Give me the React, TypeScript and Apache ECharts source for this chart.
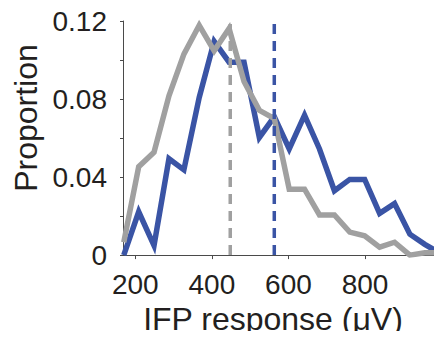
import React, { useEffect, useRef } from "react";
import * as echarts from "echarts";

const binCenters = [170, 209, 249, 288, 327, 367, 406, 445, 484, 524, 563, 602, 642, 681, 720, 760, 799, 838, 877, 917, 956, 995];
const blueValues = [0, 0.0222, 0.0049, 0.0494, 0.0437, 0.0808, 0.1096, 0.0989, 0.0989, 0.0603, 0.0709, 0.0544, 0.0717, 0.0544, 0.033, 0.0388, 0.0388, 0.0214, 0.0264, 0.0107, 0.0055, 0.001];
const grayValues = [0.0066, 0.0453, 0.0527, 0.0816, 0.103, 0.1178, 0.1047, 0.1162, 0.089, 0.0742, 0.07, 0.0338, 0.0338, 0.0206, 0.0206, 0.0118, 0.0099, 0.0041, 0.0066, 0.0, 0.0012, 0.0012];
const grayMean = 448;
const blueMean = 563;
const meanLineSpan = [0, 0.1221];
const xTickValues = [200, 400, 600, 800];
const yLabelValues = [0, 0.04, 0.08, 0.12];

const BLUE = "#3a54a5";
const GRAY = "#a0a0a0";
const TEXT = "#231f20";
const AXIS = "#4a4a4a";
const FONT = "Liberation Sans, Arial, Helvetica, sans-serif";

export default function App() {
  const ref = useRef<HTMLDivElement>(null);
  useEffect(() => {
    if (!ref.current) return;
    const chart = echarts.init(ref.current, null, { renderer: "svg" });
    const pair = (xs: number[], ys: number[]) => xs.map((x, i) => [x, ys[i]]);
    const vline = (x: number) => meanLineSpan.map((y) => [x, y]);
    chart.setOption({
      animation: false,
      grid: { left: 123, right: 0, top: 21, bottom: 77, containLabel: false },
      graphic: [
        {
          type: "rect",
          z: 100,
          shape: { x: 0, y: 331, width: 434, height: 9 },
          style: { fill: "#fff" },
        },
      ],
      xAxis: {
        type: "value",
        min: 168,
        max: 980,
        name: "IFP response (\u03bcV)",
        nameLocation: "middle",
        nameGap: 41,
        nameTextStyle: { fontSize: 32, color: TEXT, fontFamily: FONT, padding: [0, 11, 0, 0] },
        axisLine: { show: true, onZero: false, lineStyle: { color: AXIS, width: 1 } },
        axisTick: { show: true, length: 4, customValues: xTickValues, lineStyle: { color: AXIS } },
        axisLabel: { customValues: xTickValues, fontSize: 28, color: TEXT, fontFamily: FONT, margin: 15 },
        splitLine: { show: false },
      },
      yAxis: {
        type: "value",
        min: 0,
        max: 0.12,
        interval: 0.02,
        name: "Proportion",
        nameLocation: "middle",
        nameGap: 78,
        nameRotate: 90,
        nameTextStyle: { fontSize: 32, color: TEXT, fontFamily: FONT, padding: [0, 0, 0, 40] },
        axisLine: { show: true, lineStyle: { color: AXIS, width: 1 } },
        axisTick: { show: true, length: 3, lineStyle: { color: AXIS } },
        axisLabel: {
          customValues: yLabelValues,
          fontSize: 28,
          color: TEXT,
          fontFamily: FONT,
          margin: 16,
          padding: [0, 0, 8, 0],
          formatter: (v: number) => (v === 0 ? "0" : v.toFixed(2)),
        },
        splitLine: { show: false },
      },
      series: [
        {
          name: "blue",
          type: "line",
          data: pair(binCenters, blueValues),
          symbol: "none",
          lineStyle: { color: BLUE, width: 5.5, join: "miter" },
          clip: true,
          z: 2,
        },
        {
          name: "gray",
          type: "line",
          data: pair(binCenters, grayValues),
          symbol: "none",
          lineStyle: { color: GRAY, width: 5.5, join: "miter" },
          clip: true,
          z: 3,
        },
        {
          name: "blue mean",
          type: "line",
          data: vline(blueMean),
          symbol: "none",
          clip: false,
          lineStyle: { color: BLUE, width: 3.5, type: [10, 7] },
          z: 4,
        },
        {
          name: "gray mean",
          type: "line",
          data: vline(grayMean),
          symbol: "none",
          clip: false,
          lineStyle: { color: GRAY, width: 3.5, type: [10, 7] },
          z: 4,
        },
      ],
    });
    return () => chart.dispose();
  }, []);
  return (
    <div
      ref={ref}
      style={{ position: "fixed", left: 0, top: 0, width: 434, height: 340, background: "#fff" }}
    />
  );
}
